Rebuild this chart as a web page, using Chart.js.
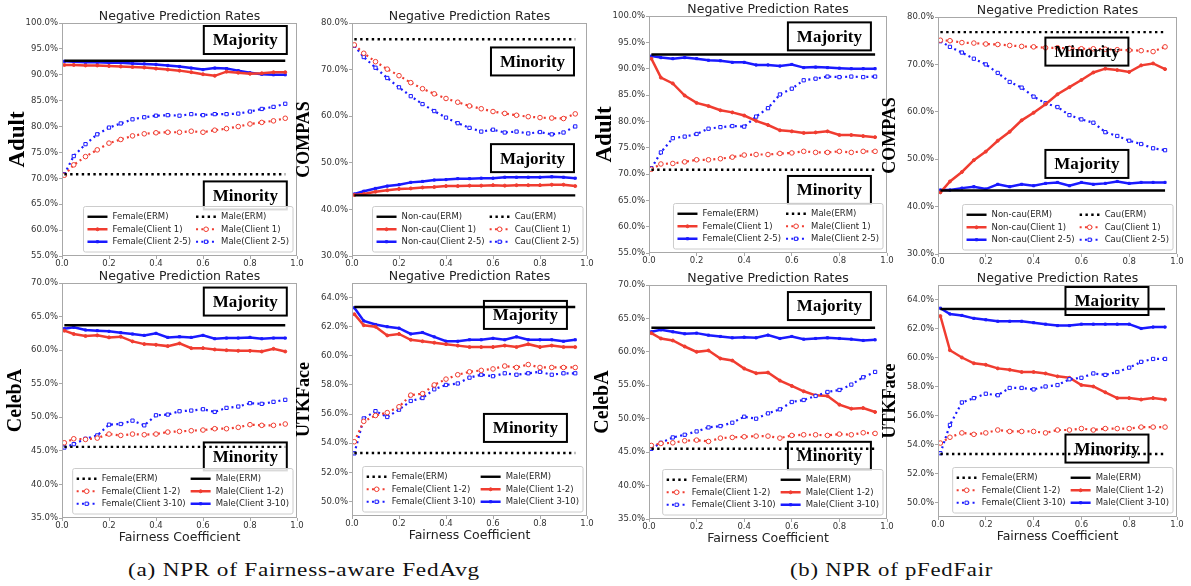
<!DOCTYPE html>
<html>
<head>
<meta charset="utf-8">
<script src="https://cdn.jsdelivr.net/npm/chart.js@4.4.1/dist/chart.umd.min.js"></script>
<style>
  body { margin: 0; background: #fff; width: 1191px; height: 586px; position: relative; overflow: hidden; }
  canvas { position: absolute; }
  .caption { position: absolute; top: 560px; font-family: "Liberation Serif", serif; font-size: 18px; color: #111;
             letter-spacing: 0.6px; white-space: nowrap; transform-origin: left center; }
</style>
</head>
<body>
<div class="caption" id="capA" style="left:128px">(a) NPR of Fairness-aware FedAvg</div>
<div class="caption" id="capB" style="left:790px">(b) NPR of pFedFair</div>
<script>
// x values (fairness coefficient) and tick labels
const fairness = [0.01, 0.05, 0.10, 0.15, 0.20, 0.25, 0.30, 0.35, 0.40, 0.45, 0.50, 0.55, 0.60, 0.65, 0.70, 0.75, 0.80, 0.85, 0.90, 0.95];
const ermX = [0.01, 0.95];
const xTicks = [0, 0.2, 0.4, 0.6, 0.8, 1.0];
const adultTicks = [55, 60, 65, 70, 75, 80, 85, 90, 95, 100];
const compasTicks = [30, 40, 50, 60, 70, 80];
const celebaTicks = [35, 40, 45, 50, 55, 60, 65, 70];
const utkTicks = [50, 52, 54, 56, 58, 60, 62, 64];

// (a) Fairness-aware FedAvg
const favAdultFemaleErm = [92.7, 92.7];
const favAdultMaleErm = [70.8, 70.8];
const favAdultFemaleC1 = [91.9, 91.9, 91.8, 91.8, 91.7, 91.6, 91.5, 91.4, 91.2, 91.0, 90.8, 90.5, 90.1, 89.8, 90.6, 90.4, 90.2, 90.3, 90.5, 90.5];
const favAdultFemaleC25 = [92.6, 92.5, 92.4, 92.4, 92.3, 92.3, 92.2, 92.1, 92.0, 91.8, 91.6, 91.3, 91.0, 91.3, 91.2, 90.8, 90.4, 90.1, 90.0, 90.0];
const favAdultMaleC1 = [70.6, 72.6, 74.2, 75.5, 76.8, 77.5, 78.2, 78.6, 78.8, 78.9, 78.9, 79.1, 78.9, 79.3, 79.6, 80.0, 80.5, 80.8, 81.1, 81.6];
const favAdultMaleC25 = [70.8, 74.3, 76.6, 78.5, 79.8, 80.6, 81.4, 81.8, 82.1, 82.2, 82.1, 82.4, 82.2, 82.4, 82.4, 82.5, 82.9, 83.4, 83.8, 84.4];

const favCompasNonErm = [43.0, 43.0];
const favCompasCauErm = [76.5, 76.5];
const favCompasNonC1 = [43.1, 43.3, 43.8, 44.1, 44.4, 44.5, 44.7, 44.8, 45.0, 45.0, 45.1, 45.1, 45.2, 45.1, 45.2, 45.2, 45.2, 45.3, 45.3, 45.0];
const favCompasNonC25 = [43.3, 43.9, 44.5, 45.0, 45.3, 45.8, 46.0, 46.3, 46.4, 46.6, 46.6, 46.7, 46.7, 46.9, 46.9, 46.9, 46.9, 47.0, 46.9, 46.7];
const favCompasCauC1 = [75.3, 73.5, 71.7, 70.1, 68.7, 67.2, 65.9, 64.8, 63.8, 63.0, 62.2, 61.6, 61.0, 60.6, 60.2, 59.9, 59.7, 59.6, 59.5, 60.5];
const favCompasCauC25 = [75.1, 72.7, 70.4, 68.2, 66.2, 64.3, 62.6, 61.1, 59.7, 58.5, 57.5, 56.7, 57.1, 56.5, 56.7, 56.3, 56.6, 56.1, 56.5, 57.8];

const favCelebaFemaleErm = [45.6, 45.6];
const favCelebaMaleErm = [63.7, 63.7];
const favCelebaFemaleC12 = [46.2, 46.8, 46.7, 46.9, 47.5, 47.3, 47.5, 47.4, 47.5, 47.8, 47.9, 48.0, 48.1, 48.3, 48.3, 48.5, 48.9, 48.8, 48.8, 49.0];
const favCelebaFemaleC310 = [45.5, 46.0, 46.8, 47.3, 48.9, 49.0, 49.5, 48.8, 50.3, 50.4, 50.9, 51.0, 51.2, 50.8, 51.4, 51.6, 52.1, 52.0, 52.3, 52.6];
const favCelebaMaleC12 = [62.9, 62.4, 62.1, 62.2, 61.9, 62.0, 61.3, 60.9, 60.8, 60.6, 61.0, 60.3, 60.3, 60.1, 60.0, 59.9, 59.9, 59.8, 60.2, 59.8];
const favCelebaMaleC310 = [63.2, 63.4, 63.0, 62.9, 62.8, 62.6, 62.4, 62.2, 62.5, 61.9, 62.0, 61.9, 62.2, 61.7, 61.8, 61.8, 61.9, 61.7, 61.8, 61.8];

const favUtkFemaleErm = [53.33, 53.33];
const favUtkMaleErm = [63.35, 63.35];
const favUtkFemaleC12 = [54.1, 55.5, 55.9, 56.1, 56.5, 57.3, 57.4, 58.0, 58.4, 58.7, 58.9, 59.0, 59.1, 59.3, 59.2, 59.4, 59.2, 59.2, 59.2, 59.2];
const favUtkFemaleC310 = [53.3, 55.7, 56.2, 55.8, 56.3, 56.9, 57.1, 57.7, 58.0, 58.1, 58.5, 58.7, 58.6, 58.8, 58.7, 58.8, 58.9, 58.7, 58.8, 58.8];
const favUtkMaleC12 = [62.86, 62.1, 62.0, 61.4, 61.5, 61.1, 61.0, 60.9, 60.8, 60.7, 60.6, 60.6, 60.6, 60.7, 60.6, 60.8, 60.6, 60.7, 60.6, 60.6];
const favUtkMaleC310 = [63.3, 62.4, 62.15, 62.0, 61.9, 61.5, 61.6, 61.3, 61.0, 61.0, 61.1, 61.1, 61.2, 61.1, 61.3, 61.1, 61.1, 61.1, 61.0, 61.1];

// (b) pFedFair
const pffAdultFemaleErm = [92.7, 92.7];
const pffAdultMaleErm = [70.8, 70.8];
const pffAdultFemaleC1 = [91.9, 88.3, 87.2, 84.9, 83.5, 82.9, 82.1, 81.7, 81.1, 80.1, 79.3, 78.3, 78.1, 77.8, 77.9, 78.1, 77.4, 77.4, 77.2, 77.0];
const pffAdultFemaleC25 = [92.4, 92.1, 91.9, 92.1, 91.9, 91.6, 91.5, 91.2, 91.2, 90.7, 90.7, 90.5, 90.8, 90.2, 90.3, 90.2, 90.1, 90.0, 90.0, 90.0];
const pffAdultMaleC1 = [70.9, 71.9, 72.0, 72.3, 72.7, 72.7, 72.9, 73.2, 73.6, 73.7, 73.7, 73.9, 74.0, 74.3, 74.1, 74.1, 74.3, 74.1, 74.3, 74.3];
const pffAdultMaleC25 = [71.1, 74.1, 76.8, 77.1, 77.6, 78.6, 78.9, 79.1, 79.0, 80.9, 82.5, 85.1, 86.2, 87.8, 88.1, 88.5, 88.4, 88.5, 88.4, 88.5];

const pffCompasNonErm = [43.4, 43.4];
const pffCompasCauErm = [76.8, 76.8];
const pffCompasNonC1 = [43.0, 45.3, 47.3, 49.8, 51.6, 53.9, 55.8, 58.2, 59.8, 61.6, 63.7, 65.2, 66.7, 68.3, 69.1, 68.8, 68.4, 69.8, 70.2, 69.0];
const pffCompasNonC25 = [43.5, 43.5, 43.9, 44.2, 43.7, 44.7, 44.2, 44.7, 44.4, 44.9, 45.1, 44.4, 45.1, 44.7, 44.9, 45.3, 44.9, 45.1, 45.1, 45.1];
const pffCompasCauC1 = [75.1, 75.0, 74.6, 74.5, 74.3, 74.2, 74.0, 73.8, 73.7, 73.5, 73.5, 73.4, 73.3, 73.3, 73.2, 73.1, 73.0, 72.9, 72.7, 73.7];
const pffCompasCauC25 = [74.9, 73.7, 72.5, 71.2, 70.0, 68.2, 66.3, 65.1, 63.2, 61.8, 61.0, 59.3, 58.4, 57.7, 55.7, 54.9, 53.9, 53.2, 52.3, 51.9];

const pffCelebaFemaleErm = [45.5, 45.5];
const pffCelebaMaleErm = [63.6, 63.6];
const pffCelebaFemaleC12 = [46.0, 46.3, 46.4, 46.7, 46.8, 46.6, 47.1, 47.2, 47.3, 47.4, 47.4, 47.1, 47.5, 47.6, 47.6, 47.5, 47.7, 47.6, 47.9, 47.8];
const pffCelebaFemaleC310 = [45.5, 46.4, 47.2, 47.6, 48.1, 48.7, 48.9, 49.4, 50.3, 50.0, 50.8, 51.4, 52.5, 52.8, 53.4, 54.0, 54.3, 55.1, 56.2, 57.0];
const pffCelebaMaleC12 = [62.8, 62.0, 61.7, 60.8, 60.0, 60.2, 59.0, 58.7, 57.5, 56.8, 56.9, 55.7, 54.9, 54.1, 53.5, 53.4, 52.1, 51.5, 51.6, 51.0];
const pffCelebaMaleC310 = [63.0, 63.3, 63.0, 62.7, 62.8, 62.5, 62.3, 62.1, 62.2, 62.1, 62.5, 62.0, 62.3, 61.9, 62.0, 62.1, 62.0, 61.9, 61.7, 61.8];

const pffUtkFemaleErm = [53.35, 53.35];
const pffUtkMaleErm = [63.35, 63.35];
const pffUtkFemaleC12 = [54.1, 54.5, 54.8, 54.7, 54.8, 55.0, 54.9, 54.9, 54.9, 54.8, 55.0, 55.0, 55.1, 55.0, 55.1, 55.1, 55.1, 55.2, 55.2, 55.2];
const pffUtkFemaleC310 = [53.4, 55.35, 56.9, 57.2, 57.5, 57.4, 57.9, 57.9, 57.8, 58.0, 58.1, 58.5, 58.6, 58.9, 58.8, 59.0, 59.3, 59.7, 59.9, 59.9];
const pffUtkMaleC12 = [62.86, 60.5, 60.0, 59.6, 59.5, 59.25, 59.15, 59.0, 59.0, 58.9, 58.7, 58.6, 58.1, 58.0, 57.6, 57.2, 57.2, 57.1, 57.2, 57.1];
const pffUtkMaleC310 = [63.4, 63.0, 62.9, 62.7, 62.6, 62.5, 62.5, 62.5, 62.4, 62.3, 62.2, 62.2, 62.3, 62.3, 62.3, 62.3, 62.3, 62.0, 62.1, 62.1];

const RED = '#f03c30';
const BLUE = '#1a1aff';
const BLACK = '#000000';
const TICK_FONT = { family: 'DejaVu Sans', size: 8.5 };

// kind: 'erm' (no marker), 'fill' (small filled marker), 'open' (hollow marker)
function line(label, xs, ys, color, dotted, kind) {
    const erm = kind === 'erm';
    return {
        label,
        data: xs.map((x, i) => ({ x, y: ys[i] })),
        borderColor: color,
        backgroundColor: color,
        borderWidth: erm ? 2.4 : (dotted ? 2.2 : 2.5),
        borderDash: dotted ? (erm ? [2.4, 3.4] : [2, 3.3]) : [],
        pointStyle: color === BLUE ? 'rect' : 'circle',
        pointRadius: kind === 'open' ? 2.3 : kind === 'fill' ? 1.5 : 0,
        pointBorderWidth: 1,
        pointBorderColor: color,
        pointBackgroundColor: kind === 'open' ? '#ffffff' : color,
        fill: false,
        tension: 0
    };
}

function sensitiveLines(names, erm1, c1a, c1b, erm2, c2a, c2b, firstDotted) {
    // names: [group1, group2, clientA, clientB]; first legend column -> group1
    const [g1, g2, ca, cb] = names;
    const d1 = firstDotted, d2 = !firstDotted;
    return [
        line(`${g1}(ERM)`, ermX, erm1, BLACK, d1, 'erm'),
        line(`${g1}(Client ${ca})`, fairness, c1a, RED, d1, d1 ? 'open' : 'fill'),
        line(`${g1}(Client ${cb})`, fairness, c1b, BLUE, d1, d1 ? 'open' : 'fill'),
        line(`${g2}(ERM)`, ermX, erm2, BLACK, d2, 'erm'),
        line(`${g2}(Client ${ca})`, fairness, c2a, RED, d2, d2 ? 'open' : 'fill'),
        line(`${g2}(Client ${cb})`, fairness, c2b, BLUE, d2, d2 ? 'open' : 'fill')
    ];
}

const panels = [
    { area: [62, 23, 235, 233], name: 'Adult', nameSize: 23, yMin: 55, yMax: 100, yTicks: adultTicks, bottomRow: false,
      datasets: sensitiveLines(['Female', 'Male', '1', '2-5'], favAdultFemaleErm, favAdultFemaleC1, favAdultFemaleC25, favAdultMaleErm, favAdultMaleC1, favAdultMaleC25, false),
      boxes: [['Majority', 0.78, 0.073], ['Minority', 0.78, 0.74]] },
    { area: [352, 23, 235, 233], name: 'COMPAS', nameSize: 18, yMin: 30, yMax: 80, yTicks: compasTicks, bottomRow: false,
      datasets: sensitiveLines(['Non-cau', 'Cau', '1', '2-5'], favCompasNonErm, favCompasNonC1, favCompasNonC25, favCompasCauErm, favCompasCauC1, favCompasCauC25, false),
      boxes: [['Minority', 0.768, 0.165], ['Majority', 0.768, 0.58]] },
    { area: [62, 283, 235, 235], name: 'CelebA', nameSize: 20, yMin: 35, yMax: 70, yTicks: celebaTicks, bottomRow: true,
      datasets: sensitiveLines(['Female', 'Male', '1-2', '3-10'], favCelebaFemaleErm, favCelebaFemaleC12, favCelebaFemaleC310, favCelebaMaleErm, favCelebaMaleC12, favCelebaMaleC310, true),
      boxes: [['Majority', 0.78, 0.079], ['Minority', 0.78, 0.738]] },
    { area: [352, 283, 235, 233], name: 'UTKFace', nameSize: 18, yMin: 49, yMax: 65, yTicks: utkTicks, bottomRow: true,
      datasets: sensitiveLines(['Female', 'Male', '1-2', '3-10'], favUtkFemaleErm, favUtkFemaleC12, favUtkFemaleC310, favUtkMaleErm, favUtkMaleC12, favUtkMaleC310, true),
      boxes: [['Majority', 0.738, 0.137], ['Minority', 0.738, 0.622]] },
    { area: [649, 16, 238, 237], name: 'Adult', nameSize: 23, yMin: 55, yMax: 100, yTicks: adultTicks, bottomRow: false,
      datasets: sensitiveLines(['Female', 'Male', '1', '2-5'], pffAdultFemaleErm, pffAdultFemaleC1, pffAdultFemaleC25, pffAdultMaleErm, pffAdultMaleC1, pffAdultMaleC25, false),
      boxes: [['Majority', 0.758, 0.086], ['Minority', 0.758, 0.734]] },
    { area: [938, 17, 239, 237], name: 'COMPAS', nameSize: 18, yMin: 30, yMax: 80, yTicks: compasTicks, bottomRow: false,
      datasets: sensitiveLines(['Non-cau', 'Cau', '1', '2-5'], pffCompasNonErm, pffCompasNonC1, pffCompasNonC25, pffCompasCauErm, pffCompasCauC1, pffCompasCauC25, false),
      boxes: [['Minority', 0.623, 0.146], ['Majority', 0.623, 0.62]] },
    { area: [649, 285, 238, 234], name: 'CelebA', nameSize: 20, yMin: 35, yMax: 70, yTicks: celebaTicks, bottomRow: true,
      datasets: sensitiveLines(['Female', 'Male', '1-2', '3-10'], pffCelebaFemaleErm, pffCelebaFemaleC12, pffCelebaFemaleC310, pffCelebaMaleErm, pffCelebaMaleC12, pffCelebaMaleC310, true),
      boxes: [['Majority', 0.758, 0.09], ['Minority', 0.758, 0.73]] },
    { area: [938, 285, 239, 232], name: 'UTKFace', nameSize: 18, yMin: 49, yMax: 65, yTicks: utkTicks, bottomRow: true,
      datasets: sensitiveLines(['Female', 'Male', '1-2', '3-10'], pffUtkFemaleErm, pffUtkFemaleC12, pffUtkFemaleC310, pffUtkMaleErm, pffUtkMaleC12, pffUtkMaleC310, true),
      boxes: [['Majority', 0.707, 0.069], ['Minority', 0.707, 0.705]] }
];

const PAD_TOP = 23, AXIS_W = 62, PAD_RIGHT = 10;

function drawMarker(ctx, d, x, y) {
    if (!d.pointRadius) return;
    const r = d.pointRadius;
    ctx.lineWidth = d.pointBorderWidth;
    ctx.strokeStyle = d.pointBorderColor;
    ctx.fillStyle = d.pointBackgroundColor;
    ctx.beginPath();
    if (d.pointStyle === 'rect') {
        const s = r * Math.SQRT1_2;
        ctx.rect(x - s, y - s, 2 * s, 2 * s);
    } else {
        ctx.arc(x, y, r, 0, Math.PI * 2);
    }
    ctx.fill();
    ctx.stroke();
}

function drawLegend(ctx, chart) {
    const ds = chart.data.datasets;
    const a = chart.chartArea;
    ctx.font = '8.5px "DejaVu Sans"';
    const cols = [ds.slice(0, 3), ds.slice(3, 6)];
    const widths = cols.map(c => Math.max(...c.map(d => ctx.measureText(d.label).width)));
    const pad = 4, handle = 20, gap = 5, colGap = 5, rowH = 12.5;
    const w = pad * 2 + 2 * (handle + gap) + widths[0] + colGap + widths[1];
    const h = pad * 2 + 3 * rowH;
    const x0 = a.right - 4 - w, y0 = a.bottom - 4 - h;
    ctx.beginPath();
    ctx.roundRect(x0, y0, w, h, 2);
    ctx.fillStyle = 'rgba(255,255,255,0.85)';
    ctx.fill();
    ctx.strokeStyle = '#cccccc';
    ctx.lineWidth = 1;
    ctx.stroke();
    cols.forEach((col, ci) => {
        const cx = x0 + pad + (ci ? handle + gap + widths[0] + colGap : 0);
        col.forEach((d, ri) => {
            const cy = y0 + pad + rowH * ri + rowH / 2;
            ctx.save();
            ctx.strokeStyle = d.borderColor;
            ctx.lineWidth = d.borderWidth;
            ctx.setLineDash(d.borderDash);
            ctx.beginPath();
            ctx.moveTo(cx, cy);
            ctx.lineTo(cx + handle, cy);
            ctx.stroke();
            ctx.setLineDash([]);
            drawMarker(ctx, d, cx + handle / 2, cy);
            ctx.restore();
            ctx.fillStyle = '#262626';
            ctx.textAlign = 'left';
            ctx.textBaseline = 'middle';
            ctx.fillText(d.label, cx + handle + gap, cy + 0.5);
        });
    });
}

const decor = {
    id: 'decor',
    afterDatasetsDraw(chart, args, opts) {
        const { ctx, chartArea: a } = chart;
        ctx.save();
        // frame
        ctx.strokeStyle = '#a8a8a8';
        ctx.lineWidth = 1;
        ctx.strokeRect(a.left + 0.5, a.top + 0.5, a.width - 1, a.height - 1);
        // title
        ctx.fillStyle = '#222';
        ctx.font = '12.5px "DejaVu Sans"';
        ctx.textAlign = 'center';
        ctx.textBaseline = 'alphabetic';
        ctx.fillText('Negative Prediction Rates', (a.left + a.right) / 2, a.top - 3);
        // group boxes
        ctx.font = 'bold 17px "Liberation Serif"';
        ctx.textBaseline = 'middle';
        opts.boxes.forEach(([text, fx, fy]) => {
            const bw = 83, bh = 28;
            const bx = a.left + fx * a.width - bw / 2;
            const by = a.top + fy * a.height - bh / 2;
            ctx.lineWidth = 2;
            ctx.strokeStyle = '#000';
            ctx.strokeRect(bx, by, bw, bh);
            ctx.fillStyle = '#000';
            ctx.fillText(text, bx + bw / 2, by + bh / 2 + 1);
        });
        drawLegend(ctx, chart);
        ctx.restore();
    }
};

panels.forEach(p => {
    const [ax, ay, aw, ah] = p.area;
    const axisH = p.bottomRow ? 27 : 15;
    const canvas = document.createElement('canvas');
    canvas.width = AXIS_W + aw + PAD_RIGHT;
    canvas.height = PAD_TOP + ah + axisH;
    canvas.style.left = (ax - AXIS_W) + 'px';
    canvas.style.top = (ay - PAD_TOP) + 'px';
    document.body.appendChild(canvas);

    new Chart(canvas, {
        type: 'line',
        data: { datasets: p.datasets },
        options: {
            responsive: false,
            animation: false,
            layout: { padding: { left: 0, top: PAD_TOP, right: PAD_RIGHT, bottom: 0 } },
            plugins: {
                legend: { display: false },
                title: { display: false },
                tooltip: { enabled: false },
                decor: { boxes: p.boxes }
            },
            scales: {
                x: {
                    type: 'linear',
                    min: 0,
                    max: 1,
                    afterBuildTicks: s => { s.ticks = xTicks.map(v => ({ value: v })); },
                    afterFit: s => { s.height = axisH; },
                    grid: { drawOnChartArea: false, tickLength: 3, color: '#a8a8a8' },
                    border: { display: false },
                    ticks: { font: TICK_FONT, color: '#333', padding: 0, maxRotation: 0, autoSkip: false, callback: v => v.toFixed(1) },
                    title: { display: p.bottomRow, text: 'Fairness Coefficient', color: '#222', font: { family: 'DejaVu Sans', size: 12.5 }, padding: { top: 0, bottom: 0 } }
                },
                y: {
                    min: p.yMin,
                    max: p.yMax,
                    afterBuildTicks: s => { s.ticks = p.yTicks.map(v => ({ value: v })); },
                    afterFit: s => { s.width = AXIS_W; },
                    grid: { drawOnChartArea: false, tickLength: 3, color: '#a8a8a8' },
                    border: { display: false },
                    ticks: { font: TICK_FONT, color: '#333', padding: 1, callback: v => v.toFixed(1) + '%' },
                    title: { display: true, text: p.name, color: '#000', font: { family: 'Liberation Serif', size: p.nameSize, weight: 'bold' }, padding: { top: 4, bottom: 0 } }
                }
            }
        },
        plugins: [decor]
    });
});

// stretch the captions to the width they take in the figure
[['capA', 352], ['capB', 203]].forEach(([id, target]) => {
    const el = document.getElementById(id);
    const w = el.getBoundingClientRect().width;
    el.style.transform = `scaleX(${(target / w).toFixed(3)})`;
});
</script>
</body>
</html>
